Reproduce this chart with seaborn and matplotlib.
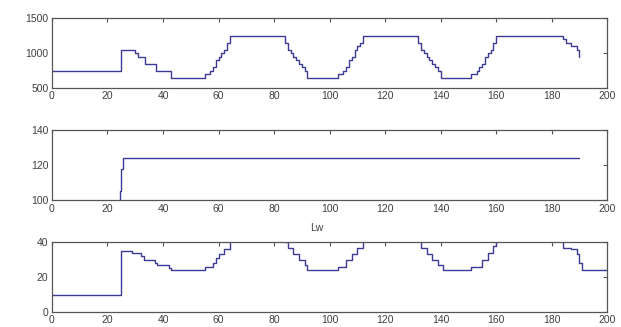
import numpy as np
import pandas as pd
from matplotlib import pyplot as plt
import seaborn as sns

sns.set_style('white')
plt.rcParams['font.family'] = ['Liberation Sans', 'DejaVu Sans']

# Top trace (vertices)
top_x = [0, 24, 25, 25.5, 29, 30, 31, 33, 33.5, 37, 37.5, 42, 43, 54,
         55, 56, 57, 58, 59, 60, 61, 62, 63, 64, 83, 84, 85, 86, 87, 88, 89, 90, 91, 92,
         102, 103, 104, 105, 106, 107, 108, 109, 110, 111, 112,
         131, 132, 133, 134, 135, 136, 137, 138, 139, 140,
         150, 151, 152, 153, 154, 155, 156, 157, 158, 159, 160,
         183, 184, 185, 186, 187, 188, 189, 190]
top_y = [750, 750, 1050, 1050, 1050, 1000, 950, 950, 850, 850, 750, 750, 640, 640,
         700, 700, 750, 800, 900, 950, 1000, 1050, 1150, 1250, 1250, 1150, 1050, 1000, 950, 900, 850, 800, 750, 640,
         640, 700, 700, 750, 800, 900, 950, 1050, 1100, 1150, 1250,
         1250, 1150, 1050, 1000, 950, 900, 850, 800, 750, 640,
         640, 700, 700, 750, 800, 850, 950, 1000, 1050, 1150, 1250,
         1250, 1200, 1150, 1150, 1100, 1100, 1050, 950]

# Middle trace
mid_x = [0, 24, 24.5, 25, 25.5, 190]
mid_y = [80, 80, 105, 118, 124, 124]

# Bottom trace
bot_x = [0, 24, 25, 25.5, 28, 29, 31, 32, 33, 36, 37, 38, 41, 42, 43, 54,
         55, 57, 58, 59, 60, 62, 64, 83, 84, 85, 87, 89, 91, 92,
         102, 103, 104, 106, 108, 110, 112,
         131, 133, 135, 137, 139, 141,
         150, 151, 153, 155, 157, 159, 160,
         183, 184, 186, 187, 188, 189, 190, 191, 200]
bot_y = [10, 10, 35, 35, 35, 34, 34, 32, 30, 30, 28, 27, 27, 25, 24, 24,
         26, 26, 28, 31, 33, 36, 45, 45, 40, 37, 33, 30, 27, 24,
         24, 26, 26, 30, 33, 37, 45,
         45, 37, 33, 30, 27, 24,
         24, 26, 26, 30, 34, 38, 45,
         45, 37, 37, 36, 36, 33, 28, 24, 24]

line_color = '#3c3c96'
text_color = '#404040'

fig = plt.figure(figsize=(6.21, 3.27), dpi=100)
panels = [
    (top_x, top_y, (500, 1500), [500, 1000, 1500], 0.731),
    (mid_x, mid_y, (100, 140), [100, 120, 140], 0.388),
    (bot_x, bot_y, (0, 40), [0, 20, 40], 0.046),
]
for xs, ys, ylim, yticks, bottom in panels:
    ax = fig.add_axes([0.0837, bottom, 0.894, 0.213])
    df = pd.DataFrame({'x': xs, 'y': ys})
    sns.lineplot(data=df, x='x', y='y', ax=ax, estimator=None, sort=False,
                 color=line_color, linewidth=1.0, drawstyle='steps-post')
    ax.set_xlim(0, 200)
    ax.set_ylim(*ylim)
    ax.set_xticks(np.arange(0, 201, 20))
    ax.set_yticks(yticks)
    ax.set_xlabel('')
    ax.set_ylabel('')
    ax.tick_params(direction='in', length=3, width=0.8, top=True, right=True,
                   labelsize=7.5, labelcolor=text_color, color='#555555', pad=2.5)
    for s in ax.spines.values():
        s.set_color('#555555')
        s.set_linewidth(0.9)

fig.text(0.51, 0.302, 'Lw', fontsize=7.5, color=text_color, ha='center', va='center')

plt.savefig('out.png', dpi=100)
